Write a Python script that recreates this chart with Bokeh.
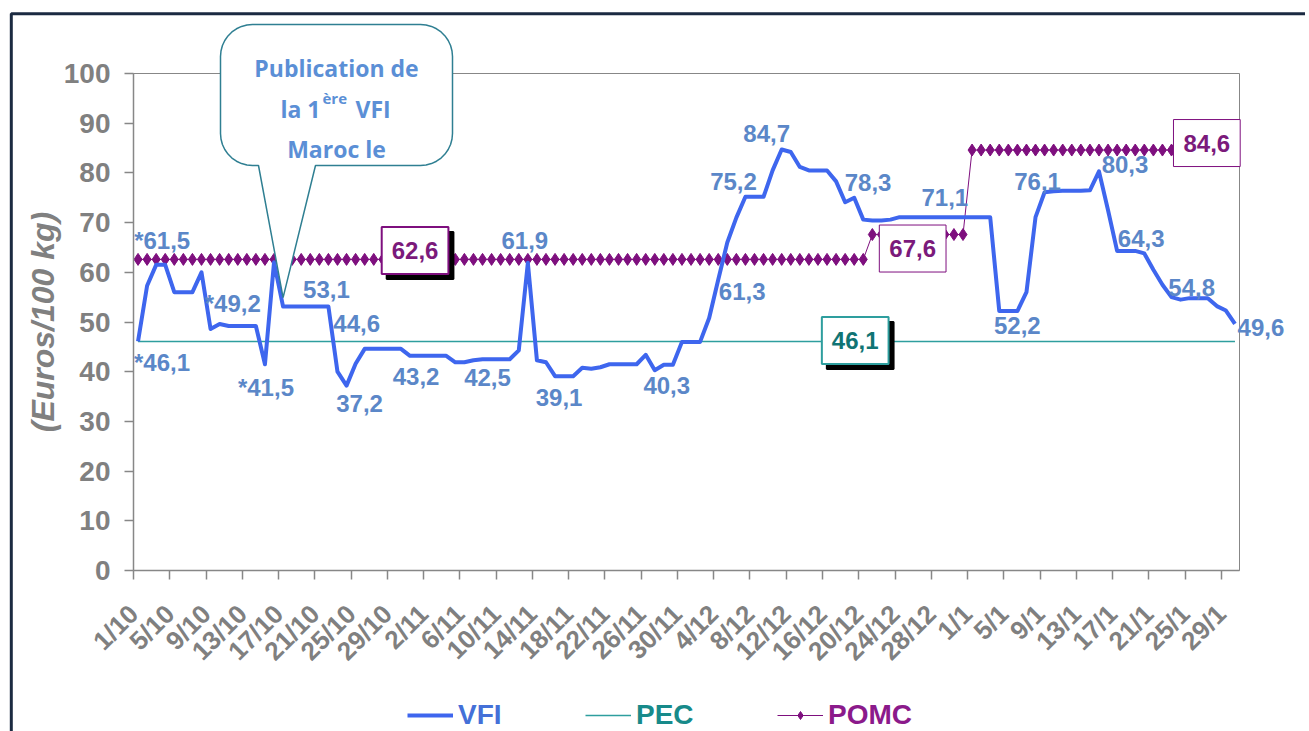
import math
import datetime
from bokeh.plotting import figure
from bokeh.models import (FixedTicker, Legend, LegendItem, Label,
                          PolyAnnotation, Range1d)
from bokeh.embed import file_html
from bokeh.resources import INLINE

# ---------------- data ----------------
start_date = datetime.date(2013, 10, 1)
N_DAYS = 122
categories = [f"{d.day}/{d.month}" for d in
              (start_date + datetime.timedelta(days=k) for k in range(N_DAYS))]

vfi = [
    46.1, 57.3, 61.5, 61.5, 56.0, 56.0, 56.0, 60.0, 48.6, 49.6,
    49.2, 49.2, 49.2, 49.2, 41.5, 62.0, 53.1, 53.1, 53.1, 53.1,
    53.1, 53.1, 40.0, 37.2, 41.6, 44.6, 44.6, 44.6, 44.6, 44.6,
    43.2, 43.2, 43.2, 43.2, 43.2, 41.9, 41.9, 42.3, 42.5, 42.5,
    42.5, 42.5, 44.3, 61.9, 42.3, 41.9, 39.1, 39.1, 39.1, 40.8,
    40.6, 40.9, 41.5, 41.5, 41.5, 41.5, 43.4, 40.3, 41.4, 41.4,
    46.0, 46.0, 46.0, 50.8, 58.5, 66.0, 71.0, 75.2, 75.2, 75.2,
    80.5, 84.7, 84.2, 81.2, 80.5, 80.5, 80.5, 78.3, 74.1, 75.0,
    70.6, 70.4, 70.4, 70.6, 71.1, 71.1, 71.1, 71.1, 71.1, 71.1,
    71.1, 71.1, 71.1, 71.1, 71.1, 52.2, 52.2, 52.2, 56.0, 71.1,
    76.1, 76.3, 76.4, 76.4, 76.4, 76.5, 80.3, 72.5, 64.3, 64.3,
    64.3, 63.8, 60.5, 57.5, 55.0, 54.5, 54.8, 54.8, 54.8, 53.2,
    52.3, 49.6,
]
pec = [46.1] * N_DAYS
pomc = [62.6] * 81 + [67.6] * 11 + [84.6] * 30

tick_days = list(range(0, 121, 4))
tick_labels = ["1/10", "5/10", "9/10", "13/10", "17/10", "21/10", "25/10",
               "29/10", "2/11", "6/11", "10/11", "14/11", "18/11", "22/11",
               "26/11", "30/11", "4/12", "8/12", "12/12", "16/12", "20/12",
               "24/12", "28/12", "1/1", "5/1", "9/1", "13/1", "17/1",
               "21/1", "25/1", "29/1"]
y_ticks = list(range(0, 101, 10))

# value labels: (day index, text, dx px, dy px (down))
vfi_labels = [
    (2, "*61,5", 6, -24), (0, "*46,1", 24, 21), (11, "*49,2", -5, -22),
    (14, "*41,5", 1, 23), (21, "53,1", -2, -17), (25, "44,6", -8, -25),
    (23, "37,2", 13, 18), (31, "43,2", -3, 21), (38, "42,5", 5, 18),
    (43, "61,9", -3, -22), (47, "39,1", -5, 21), (57, "40,3", 12, 15),
    (64, "61,3", 24, 12), (68, "75,2", -21, -15), (71, "84,7", -15, -16),
    (77, "78,3", 32, 1), (88, "71,1", 9, -20), (96, "52,2", 9, 14),
    (100, "76,1", -7, -11), (106, "80,3", 26, -7), (109, "64,3", 15, -12),
    (116, "54,8", 2, -11), (121, "49,6", 26, 4),
]
# boxed labels: (series, day index, text, dx, dy, shadow, border width)
box_labels = [
    ("pomc", 31, "62,6", -4, -9, True, 2),
    ("pomc", 86, "67,6", -5, 14, False, 1),
    ("pomc", 119, "84,6", -10, -7, False, 1),
    ("pec", 79, "46,1", 1, -1, True, 2),
]

# ---------------- styling / geometry ----------------
VFI_COLOR = "#3E66EE"
VFI_TEXT = "#5B87C8"
PEC_COLOR = "#2E9E9E"
PEC_TEXT = "#107474"
POMC_COLOR = "#7E0F7E"
GRAY = "#878787"
FONT = "Liberation Sans"

W, H = 1305, 731                 # canvas = frame (whole page)
AREA_L, AREA_T = 133, 73         # plot area (value 0..122 x 0..100) in px
AREA_W, AREA_H = 1106, 497
AREA_B = AREA_T + AREA_H
PXD = AREA_W / N_DAYS
PXV = AREA_H / 100.0


def to_data(px, py):
    """page pixel -> data coordinates (for decorations only)"""
    return (px - AREA_L) / PXD, (AREA_B - py) / PXV


xs = [i + 0.5 for i in range(N_DAYS)]

p = figure(width=W, height=H, min_border=0,
           min_border_left=0, min_border_right=0,
           min_border_top=0, min_border_bottom=0,
           x_range=Range1d(-AREA_L / PXD, (W - AREA_L) / PXD),
           y_range=Range1d(-(H - AREA_B) / PXV, 100 + AREA_T / PXV),
           output_backend="svg", toolbar_location=None,
           background_fill_color="white", border_fill_color="white")
p.title.visible = False
p.xgrid.visible = False
p.ygrid.visible = False
p.outline_line_color = None

for ax in (p.xaxis[0], p.yaxis[0]):
    ax.fixed_location = 0
    ax.axis_line_color = GRAY
    ax.axis_line_width = 1.5
    ax.major_tick_line_color = GRAY
    ax.major_tick_line_width = 1.5
    ax.major_tick_in = 0
    ax.major_tick_out = 9
    ax.minor_tick_line_color = None
    ax.major_label_text_color = "#808080"
    ax.major_label_text_font = FONT
    ax.major_label_text_font_style = "bold"

p.yaxis.bounds = (0, 100)
p.yaxis.ticker = FixedTicker(ticks=y_ticks)
p.yaxis.major_label_text_font_size = "28px"
p.yaxis.major_label_standoff = 14
p.yaxis.axis_label = "(Euros/100 kg)"
p.yaxis.axis_label_text_font = FONT
p.yaxis.axis_label_text_font_style = "bold italic"
p.yaxis.axis_label_text_font_size = "32px"
p.yaxis.axis_label_text_color = "#808080"
p.yaxis.axis_label_standoff = 0

p.xaxis.bounds = (0, N_DAYS)
p.xaxis.ticker = FixedTicker(ticks=tick_days)
p.xaxis.major_label_overrides = {t: lab for t, lab in zip(tick_days, tick_labels)}
p.xaxis.major_label_orientation = math.pi / 4
p.xaxis.major_label_text_font_size = "26px"
p.xaxis.major_label_standoff = 30

# plot-area border (top / right in grey)
p.add_layout(PolyAnnotation(xs=[0, N_DAYS, N_DAYS, 0], ys=[0, 0, 100, 100],
                            fill_alpha=0, line_color=GRAY, line_alpha=1,
                            line_width=1, level="underlay"))

# ---------------- series ----------------
r_pec = p.line(xs, pec, line_color=PEC_COLOR, line_width=1.5)
r_pomc_line = p.line(xs, pomc, line_color=POMC_COLOR, line_width=1)
r_pomc_pts = p.scatter(xs, pomc, marker="diamond", size=12, line_width=1,
                       fill_color=POMC_COLOR, line_color=POMC_COLOR)
r_vfi = p.line(xs, vfi, line_color=VFI_COLOR, line_width=4, line_join="round")

# ---------------- outer chart border (top / left visible) ----------------
bx, by = zip(*[to_data(*pt) for pt in
               [(10.8, 13.2), (3000, 13.2), (3000, 3000), (10.8, 3000)]])
p.add_layout(PolyAnnotation(xs=list(bx), ys=list(by), fill_alpha=0,
                            line_color="#1B2A41", line_alpha=1, line_width=3))

# ---------------- value labels ----------------
for idx, txt, dx, dy in vfi_labels:
    x0 = xs[idx] + dx / PXD
    y0 = vfi[idx] - dy / PXV
    p.add_layout(Label(x=x0, y=y0, text=txt, text_align="center",
                       text_baseline="middle", text_font=FONT,
                       text_font_style="bold", text_font_size="24px",
                       text_color=VFI_TEXT))

BOX_PAD = dict(left=10, right=10, top=15, bottom=15)
series_map = {"pomc": (pomc, POMC_COLOR, "#7B1A7B"),
              "pec": (pec, PEC_COLOR, PEC_TEXT)}
for ser, idx, txt, dx, dy, shadow, bw in box_labels:
    vals, bcol, tcol = series_map[ser]
    x0 = xs[idx] + dx / PXD
    y0 = vals[idx] - dy / PXV
    if shadow:
        p.add_layout(Label(x=x0 + 5 / PXD, y=y0 - 5 / PXV, text=txt,
                           text_align="center", text_baseline="middle",
                           text_font=FONT, text_font_style="bold",
                           text_font_size="24px", text_color="black",
                           background_fill_color="black",
                           border_line_color="black", border_line_width=bw,
                           padding=BOX_PAD))
    p.add_layout(Label(x=x0, y=y0, text=txt, text_align="center",
                       text_baseline="middle", text_font=FONT,
                       text_font_style="bold", text_font_size="24px",
                       text_color=tcol, background_fill_color="white",
                       border_line_color=bcol, border_line_width=bw,
                       padding=BOX_PAD))

# ---------------- callout ----------------
def callout_points(l, t, r, b, rad, base_l, base_r, tip):
    pts = []

    def arc(cx, cy, a0, a1):
        for k in range(10):
            a = a0 + (a1 - a0) * k / 9
            pts.append((cx + rad * math.cos(a), cy + rad * math.sin(a)))

    arc(l + rad, t + rad, math.pi, 1.5 * math.pi)
    arc(r - rad, t + rad, 1.5 * math.pi, 2 * math.pi)
    arc(r - rad, b - rad, 0, 0.5 * math.pi)
    pts += [(base_r, b), tip, (base_l, b)]
    arc(l + rad, b - rad, 0.5 * math.pi, math.pi)
    return pts


CALLOUT_IDX = 16
tip_page = (AREA_L + xs[CALLOUT_IDX] * PXD, AREA_B - vfi[CALLOUT_IDX] * PXV - 9)
cpts = callout_points(220, 24, 452, 165, 32, 258, 315, tip_page)
cx, cy = zip(*[to_data(*pt) for pt in cpts])
p.add_layout(PolyAnnotation(xs=list(cx), ys=list(cy), fill_color="white",
                            fill_alpha=1, line_color="#2F7F92",
                            line_alpha=1, line_width=1.5))

CALL_TEXT = "#5B8FD6"


def ctext(txt, px, py, align, size="23px"):
    x0, y0 = to_data(px, py)
    p.add_layout(Label(x=x0, y=y0, text=txt, text_align=align,
                       text_baseline="alphabetic", text_font="Open Sans",
                       text_font_style="bold", text_font_size=size,
                       text_color=CALL_TEXT))


ctext("Publication de", 336, 67, "center")
ctext("la 1", 320, 108, "right")
ctext("ère", 322, 97, "left", "15px")
ctext("VFI", 355, 108, "left")
ctext("Maroc le", 336, 148, "center")

# ---------------- legends (one per series for individual colours) -------
def make_legend(label, renderers, color, x_px):
    leg = Legend(items=[LegendItem(label=label, renderers=renderers)],
                 location=(x_px, 0), orientation="horizontal",
                 glyph_width=46, glyph_height=20, label_standoff=5,
                 padding=0, margin=0, spacing=0, border_line_color=None,
                 background_fill_alpha=0, label_text_font=FONT,
                 label_text_font_style="bold", label_text_font_size="28px",
                 label_text_color=color)
    p.add_layout(leg)


make_legend("VFI", [r_vfi], "#4470D8", 407)
make_legend("PEC", [r_pec], "#178A8A", 585)
make_legend("POMC", [r_pomc_line, r_pomc_pts], "#8B1A8B", 777)

open("out.html", "w").write(file_html(p, INLINE))
